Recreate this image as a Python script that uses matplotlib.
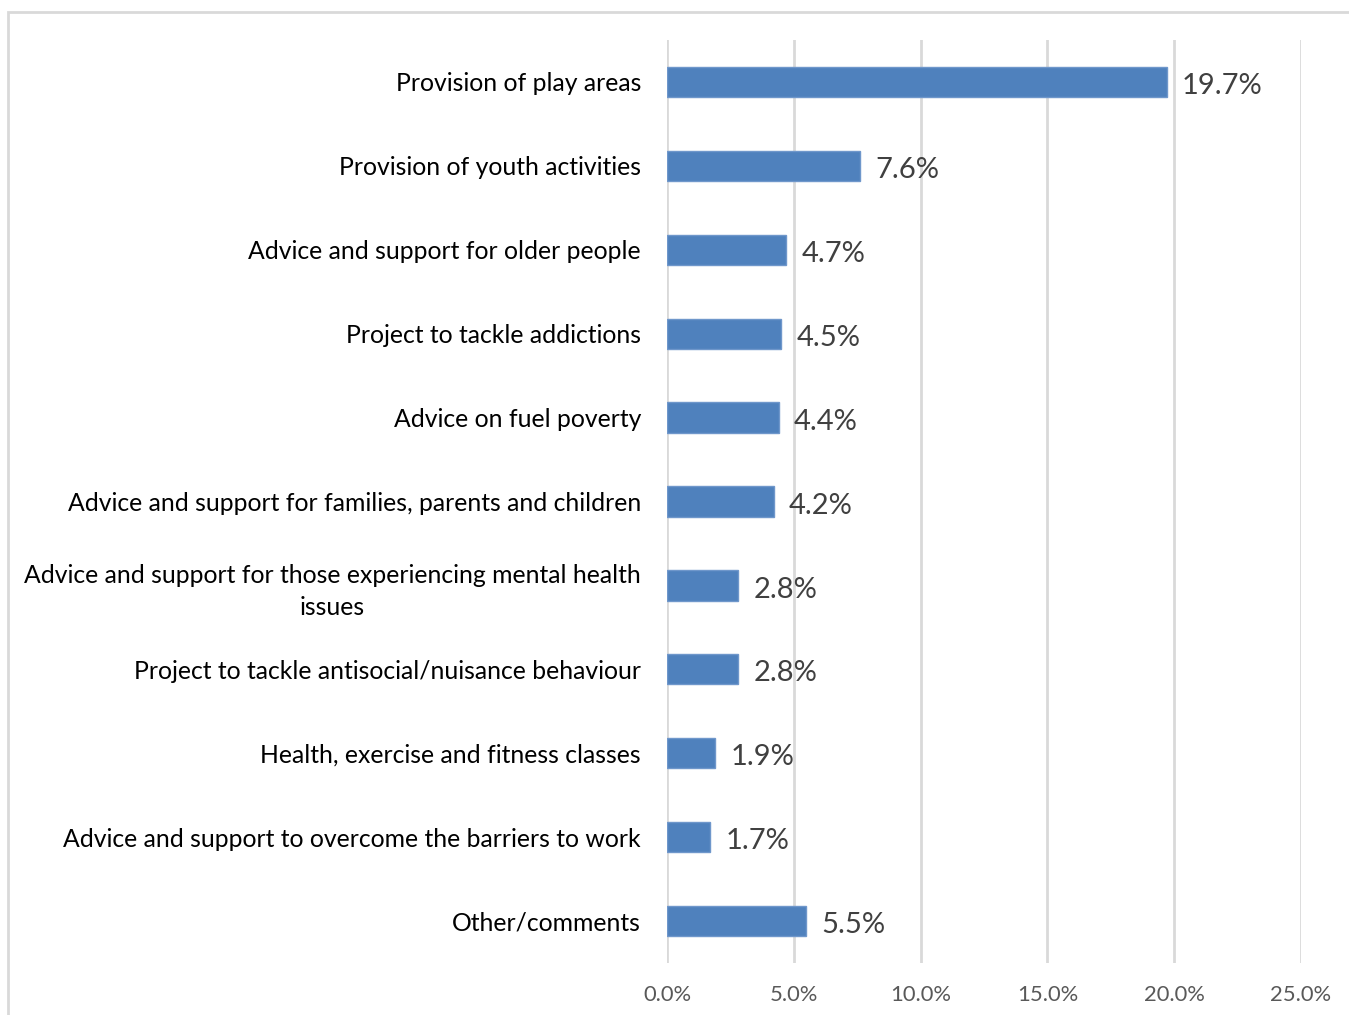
import matplotlib
matplotlib.use("Agg")
import matplotlib.pyplot as plt
from matplotlib.patches import Rectangle
from matplotlib.ticker import FuncFormatter

categories = [
    "Provision of play areas",
    "Provision of youth activities",
    "Advice and support for older people",
    "Project to tackle addictions",
    "Advice on fuel poverty",
    "Advice and support for families, parents and children",
    "Advice and support for those experiencing mental health\nissues",
    "Project to tackle antisocial/nuisance behaviour",
    "Health, exercise and fitness classes",
    "Advice and support to overcome the barriers to work",
    "Other/comments",
]
values = [19.7, 7.6, 4.7, 4.5, 4.4, 4.2, 2.8, 2.8, 1.9, 1.7, 5.5]
x_ticks = [0, 5, 10, 15, 20, 25]

plt.rcParams["font.family"] = ["Lato", "DejaVu Sans"]

W, H = 1349, 1015
fig = plt.figure(figsize=(W / 100, H / 100), dpi=100)
fig.patch.set_facecolor("white")

# chart-area border
fig.add_artist(Rectangle((8 / W, -0.01), 1.02 - 8 / W, 1 - 12 / H + 0.01,
                         transform=fig.transFigure, fill=False,
                         edgecolor="#D9D9D9", linewidth=2))

ax = fig.add_axes([667 / W, 1 - 963 / H, (1301 - 667) / W, (963 - 40) / H])

ypos = list(range(len(categories)))
ax.barh(ypos, values, height=0.36, color="#4F81BD",
        edgecolor="#6F97CB", linewidth=1, zorder=3)

ax.set_xlim(0, 25)
ax.set_ylim(len(categories) - 0.5, -0.5)
ax.set_xticks(x_ticks)
ax.xaxis.set_major_formatter(FuncFormatter(lambda v, p: f"{v:.1f}%"))
ax.set_yticks(ypos)
ax.set_yticklabels(categories, fontsize=17.8, color="black", ha="center",
                   linespacing=1.45)
ax.tick_params(axis="y", length=0, pad=0)
ax.tick_params(axis="x", length=0, pad=16, labelsize=15.8, labelcolor="#595959")

ax.grid(axis="x", color="#D9D9D9", linewidth=2, zorder=0)
for s in ax.spines.values():
    s.set_visible(False)

for y, v in zip(ypos, values):
    ax.text(v + 0.6, y + 0.02, f"{v:.1f}%", va="center_baseline", ha="left",
            fontsize=21, color="#404040")

fig.canvas.draw()
# centre each category label so its right edge sits at x=641px
renderer = fig.canvas.get_renderer()
for lbl in ax.get_yticklabels():
    bb = lbl.get_window_extent(renderer)
    cx = 641 - bb.width / 2
    lbl.set_x(ax.transAxes.inverted().transform((cx, 0))[0])
    if "\n" in lbl.get_text():
        lbl.set_y(lbl.get_position()[1] - 0.04)

fig.savefig("out.png", dpi=100, facecolor="white")
